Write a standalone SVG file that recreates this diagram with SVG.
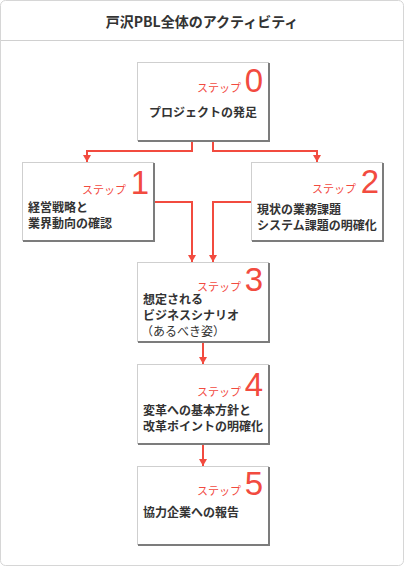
<svg xmlns="http://www.w3.org/2000/svg" width="405" height="567" viewBox="0 0 405 567">
<style>
.box{fill:#fff;stroke:#cfcfcf;stroke-width:1}
.sh{fill:none;stroke:#7c7c7c;stroke-width:2}
.lbl{font-family:"Noto Sans CJK JP","Noto Sans",sans-serif;font-size:11px;fill:#f24b3f;text-anchor:end}
.num{font-family:"Liberation Sans",Arial,sans-serif;font-size:33px;fill:#f24b3f;text-anchor:end}
.txt{font-family:"Noto Sans CJK JP","Noto Sans",sans-serif;font-size:12px;font-weight:bold;fill:#333}
.reg{font-weight:normal}
.con{fill:none;stroke:#f24b3f;stroke-width:2}
</style>
<defs>
<marker id="ah" markerUnits="userSpaceOnUse" markerWidth="8" markerHeight="8" refX="7" refY="4" orient="auto" viewBox="0 0 8 8">
<path d="M0,0 L7,4 L0,8 z" fill="#f24b3f"/>
</marker>
</defs>
<rect x="0.5" y="0.5" width="403" height="565" rx="5" ry="5" fill="#fff" stroke="#d6d6d6"/>
<line x1="1" y1="40.5" x2="403" y2="40.5" stroke="#d0d0d0"/>
<text x="202" y="27" font-family="'Noto Sans CJK JP','Noto Sans',sans-serif" font-size="14" font-weight="bold" fill="#333" text-anchor="middle">戸沢PBL全体のアクティビティ</text>

<g id="connectors">
<path class="con" d="M192,141 V151 H87 V162" marker-end="url(#ah)"/>
<path class="con" d="M213,141 V151 H317 V162" marker-end="url(#ah)"/>
<path class="con" d="M153,202 H192 V262" marker-end="url(#ah)"/>
<path class="con" d="M251,202 H213 V262" marker-end="url(#ah)"/>
<path class="con" d="M203,342 V364" marker-end="url(#ah)"/>
<path class="con" d="M203,444 V466" marker-end="url(#ah)"/>
</g>

<g id="step0">
<rect class="box" x="137.5" y="62.5" width="131" height="78"/>
<path class="sh" d="M138,141 H269 V63"/>
<text class="lbl" x="241" y="92">ステップ</text>
<text class="num" x="263" y="92">0</text>
<text class="txt" x="203" y="117" text-anchor="middle">プロジェクトの発足</text>
</g>

<g id="step1">
<rect class="box" x="22.5" y="162.5" width="131" height="78"/>
<path class="sh" d="M23,241 H154 V163"/>
<text class="lbl" x="126" y="194">ステップ</text>
<text class="num" x="149" y="194">1</text>
<text class="txt" x="28" y="212">経営戦略と</text>
<text class="txt" x="28" y="228">業界動向の確認</text>
</g>

<g id="step2">
<rect class="box" x="251.5" y="162.5" width="131" height="78"/>
<path class="sh" d="M252,241 H383 V163"/>
<text class="lbl" x="356" y="193">ステップ</text>
<text class="num" x="379" y="193">2</text>
<text class="txt" x="257" y="214">現状の業務課題</text>
<text class="txt" x="257" y="230">システム課題の明確化</text>
</g>

<g id="step3">
<rect class="box" x="137.5" y="262.5" width="131" height="79"/>
<path class="sh" d="M138,342 H269 V263"/>
<text class="lbl" x="241" y="291">ステップ</text>
<text class="num" x="263" y="291">3</text>
<text class="txt" x="143" y="304">想定される</text>
<text class="txt" x="143" y="320">ビジネスシナリオ</text>
<text class="txt reg" x="141" y="336">（あるべき姿）</text>
</g>

<g id="step4">
<rect class="box" x="137.5" y="364.5" width="131" height="79"/>
<path class="sh" d="M138,444 H269 V365"/>
<text class="lbl" x="241" y="396">ステップ</text>
<text class="num" x="263" y="396">4</text>
<text class="txt" x="143" y="415">変革への基本方針と</text>
<text class="txt" x="143" y="431">改革ポイントの明確化</text>
</g>

<g id="step5">
<rect class="box" x="137.5" y="466.5" width="131" height="78"/>
<path class="sh" d="M138,545 H269 V467"/>
<text class="lbl" x="241" y="495">ステップ</text>
<text class="num" x="263" y="495">5</text>
<text class="txt" x="143" y="517">協力企業への報告</text>
</g>
</svg>
